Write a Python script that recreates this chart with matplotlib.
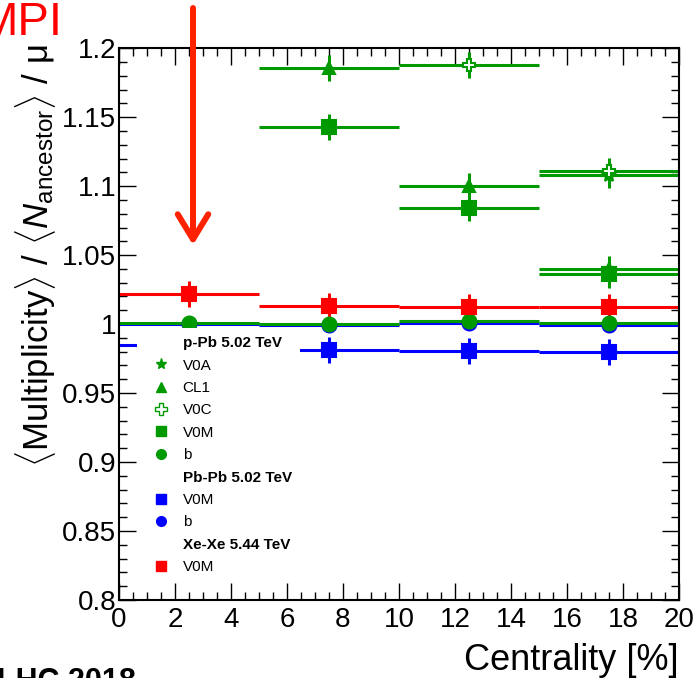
import matplotlib
matplotlib.use('Agg')
import matplotlib.pyplot as plt
from matplotlib.lines import Line2D
from matplotlib.ticker import MultipleLocator, FormatStrFormatter

plt.rcParams['font.family'] = ['Liberation Sans', 'DejaVu Sans']
plt.rcParams['mathtext.fontset'] = 'custom'
plt.rcParams['mathtext.rm'] = 'Liberation Sans'
plt.rcParams['mathtext.it'] = 'Liberation Sans:italic'
plt.rcParams['mathtext.bf'] = 'Liberation Sans:bold'

# centrality bins (centres, half width)
bin_half = 2.5

# p-Pb 5.02 TeV
ppb_v0a_x = [17.5]
ppb_v0a = [1.108]
ppb_cl1_x = [7.5, 12.5, 17.5]
ppb_cl1 = [1.1855, 1.100, 1.040]
ppb_v0c_x = [12.5, 17.5]
ppb_v0c = [1.1877, 1.111]
ppb_v0m_x = [7.5, 12.5, 17.5]
ppb_v0m = [1.143, 1.084, 1.036]
ppb_b_x = [2.5, 7.5, 12.5, 17.5]
ppb_b = [1.001, 1.000, 1.002, 1.0005]

# Pb-Pb 5.02 TeV
pbpb_x = [2.5, 7.5, 12.5, 17.5]
pbpb_v0m = [0.985, 0.981, 0.9805, 0.9795]
pbpb_b = [1.000, 0.9995, 1.0005, 0.9995]

# Xe-Xe 5.44 TeV
xexe_x = [2.5, 7.5, 12.5, 17.5]
xexe_v0m = [1.022, 1.013, 1.0125, 1.0123]

stat_err = 0.0095

green = '#009900'
blue = '#0000ff'
red = '#ff0000'

fig = plt.figure(figsize=(6.95, 6.78), dpi=100)
ax = fig.add_axes([0.1712, 0.115, 0.8058, 0.814])

def draw(x, y, color, marker, ms, yerr=stat_err, mfc=None):
    ax.errorbar(x, y, xerr=bin_half, yerr=yerr, fmt=marker, color=color,
                ms=ms, mfc=mfc if mfc else color, mec=color, mew=1.5,
                elinewidth=2.2, capsize=0)

draw(pbpb_x, pbpb_v0m, blue, 's', 10)
draw(pbpb_x, pbpb_b, blue, 'o', 10, yerr=0)
draw(ppb_v0a_x, ppb_v0a, green, '*', 10)
draw(ppb_cl1_x, ppb_cl1, green, '^', 9)
draw(ppb_v0c_x, ppb_v0c, green, 'P', 9, mfc='white')
draw(ppb_v0m_x, ppb_v0m, green, 's', 10)
draw(ppb_b_x, ppb_b, green, 'o', 10, yerr=0)
draw(xexe_x, xexe_v0m, red, 's', 10)

ax.set_xlim(0, 20)
ax.set_ylim(0.8, 1.2)
ax.xaxis.set_major_locator(MultipleLocator(2))
ax.xaxis.set_minor_locator(MultipleLocator(0.5))
ax.yaxis.set_major_locator(MultipleLocator(0.05))
ax.yaxis.set_minor_locator(MultipleLocator(0.01))
ax.yaxis.set_major_formatter(FormatStrFormatter('%g'))
ax.tick_params(which='both', direction='in', top=True, right=True, width=1)
ax.tick_params(which='major', length=12, labelsize=20)
ax.tick_params(which='minor', length=5.5)
ax.tick_params(axis='y', pad=2)
ax.tick_params(axis='x', pad=5)
for s in ax.spines.values():
    s.set_linewidth(1.5)

# legend
blank = Line2D([], [], linestyle='none')
handles = [
    blank,
    Line2D([], [], ls='none', marker='*', color=green, ms=8),
    Line2D([], [], ls='none', marker='^', color=green, ms=7),
    Line2D([], [], ls='none', marker='P', color=green, mfc='white', ms=8),
    Line2D([], [], ls='none', marker='s', color=green, ms=7),
    Line2D([], [], ls='none', marker='o', color=green, ms=7),
    blank,
    Line2D([], [], ls='none', marker='s', color=blue, ms=7),
    Line2D([], [], ls='none', marker='o', color=blue, ms=7),
    blank,
    Line2D([], [], ls='none', marker='s', color=red, ms=7),
]
labels = ['p-Pb 5.02 TeV', 'V0A', 'CL1', 'V0C', 'V0M', 'b',
          'Pb-Pb 5.02 TeV', 'V0M', 'b', 'Xe-Xe 5.44 TeV', 'V0M']
leg = ax.legend(handles, labels, loc='upper left',
                bbox_to_anchor=(0.032, 0.492), borderaxespad=0,
                fontsize=11, frameon=True, facecolor='white',
                edgecolor='none', framealpha=1, fancybox=False,
                handlelength=2.2, handletextpad=0.3, borderpad=0.5,
                labelspacing=0.55)
for i in (0, 6, 9):
    leg.get_texts()[i].set_fontweight('bold')

fig.text(679 / 695, 1 - 670 / 678, 'Centrality [%]', ha='right',
         va='baseline', fontsize=26)
fig.text(36 / 695, 1 - 256 / 678,
         r'$\langle$Multiplicity$\rangle$ / $\langle N_{\rm ancestor}\rangle$ / '
         '\u03bc',
         rotation=90, ha='center', va='center', fontsize=25)

fig.text(62 / 695, 1 - 35 / 678, 'MPI', color='red', ha='right',
         va='baseline', fontsize=34)
fig.text(-3 / 695, -12 / 678, 'LHC 2018', ha='left', va='baseline',
         fontsize=22, fontweight='bold')

ax.annotate('', xy=(193 / 695, 1 - 245 / 678), xytext=(193 / 695, 1 - 8 / 678),
            xycoords='figure fraction', textcoords='figure fraction',
            arrowprops=dict(arrowstyle='->, head_length=0.9, head_width=0.55',
                            color='#ff2200', lw=4.3, mutation_scale=20,
                            shrinkA=0, shrinkB=0))

fig.savefig('out.png', dpi=100)
